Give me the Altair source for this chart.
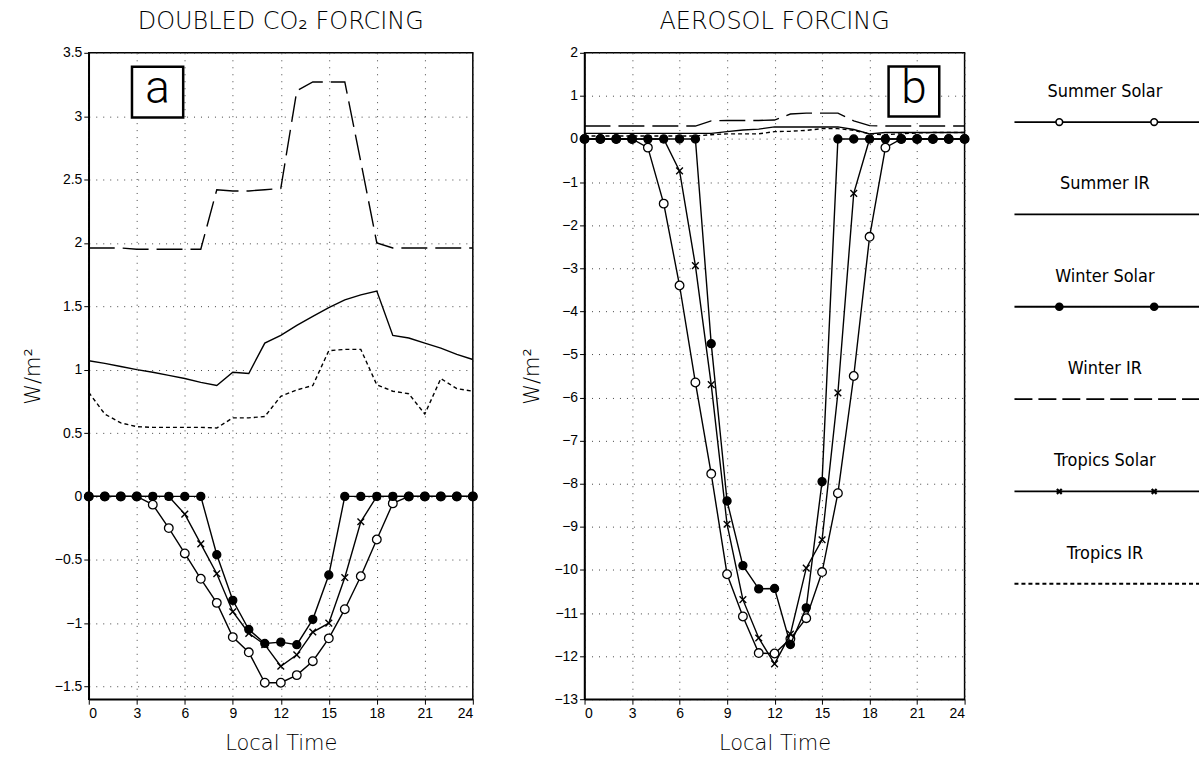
import altair as alt
import pandas as pd

hours = list(range(25))

# ---- Panel a: doubled CO2 forcing ----
a_summer_solar = [0, 0, 0, 0, -0.065, -0.25, -0.45, -0.65, -0.84, -1.11, -1.23, -1.47, -1.47,
                  -1.41, -1.30, -1.12, -0.89, -0.63, -0.34, -0.055, 0, 0, 0, 0, 0]
a_summer_ir = [1.07, 1.05, 1.025, 1.0, 0.98, 0.955, 0.93, 0.90, 0.875, 0.98, 0.97, 1.21, 1.27,
               1.35, 1.42, 1.49, 1.55, 1.59, 1.62, 1.27, 1.25, 1.21, 1.17, 1.12, 1.08]
a_winter_solar = [0, 0, 0, 0, 0, 0, 0, 0, -0.46, -0.82, -1.05, -1.16, -1.15,
                  -1.17, -0.97, -0.62, 0, 0, 0, 0, 0, 0, 0, 0, 0]
a_winter_ir = [1.96, 1.96, 1.96, 1.95, 1.95, 1.95, 1.95, 1.95, 2.42, 2.41, 2.41, 2.42, 2.43,
               3.2, 3.27, 3.27, 3.27, 2.64, 2.0, 1.96, 1.96, 1.96, 1.96, 1.96, 1.96]
a_tropics_solar = [0, 0, 0, 0, 0, 0, -0.14, -0.375, -0.61, -0.91, -1.08, -1.17, -1.34,
                   -1.25, -1.07, -1.0, -0.64, -0.20, 0, 0, 0, 0, 0, 0, 0]
a_tropics_ir = [0.82, 0.65, 0.58, 0.55, 0.545, 0.545, 0.545, 0.545, 0.54, 0.62, 0.62, 0.63, 0.79,
                0.84, 0.875, 1.15, 1.16, 1.16, 0.88, 0.83, 0.81, 0.65, 0.93, 0.85, 0.83]

# ---- Panel b: aerosol forcing ----
b_summer_solar = [0, 0, 0, 0, -0.2, -1.5, -3.4, -5.65, -7.77, -10.1, -11.08, -11.93, -11.94,
                  -11.6, -11.12, -10.05, -8.22, -5.5, -2.27, -0.2, 0, 0, 0, 0, 0]
b_summer_ir = [0.13, 0.13, 0.13, 0.13, 0.13, 0.13, 0.13, 0.13, 0.13, 0.17, 0.21, 0.23, 0.28,
               0.28, 0.28, 0.28, 0.28, 0.22, 0.12, 0.15, 0.15, 0.15, 0.15, 0.15, 0.15]
b_winter_solar = [0, 0, 0, 0, 0, 0, 0, 0, -4.75, -8.4, -9.9, -10.44, -10.43,
                  -11.73, -10.88, -7.95, 0, 0, 0, 0, 0, 0, 0, 0, 0]
b_winter_ir = [0.30, 0.30, 0.30, 0.30, 0.30, 0.30, 0.30, 0.30, 0.42, 0.43, 0.43, 0.43, 0.44,
               0.58, 0.60, 0.60, 0.60, 0.42, 0.31, 0.30, 0.30, 0.30, 0.30, 0.30, 0.30]
b_tropics_solar = [0, 0, 0, 0, 0, 0, -0.74, -2.94, -5.70, -8.94, -10.69, -11.58, -12.18,
                   -11.49, -9.96, -9.3, -5.89, -1.26, 0, 0, 0, 0, 0, 0, 0]
b_tropics_ir = [0.07, 0.07, 0.07, 0.07, 0.07, 0.07, 0.07, 0.07, 0.10, 0.12, 0.12, 0.12, 0.17,
                0.18, 0.20, 0.24, 0.24, 0.20, 0.12, 0.10, 0.12, 0.14, 0.15, 0.15, 0.15]

x_ticks = [0, 3, 6, 9, 12, 15, 18, 21, 24]
a_yticks = [-1.5, -1, -0.5, 0, 0.5, 1, 1.5, 2, 2.5, 3, 3.5]
b_yticks = list(range(-13, 3))

# panel tag boxes: [x0, x1, y0, y1] in data units, letter
a_tag = {"x0": 2.7, "x1": 5.9, "y0": 2.99, "y1": 3.39, "t": "a"}
b_tag = {"x0": 19.2, "x1": 22.4, "y0": 0.52, "y1": 1.68, "t": "b"}

# legend
leg_names = ["Summer Solar", "Summer IR", "Winter Solar", "Winter IR", "Tropics Solar", "Tropics IR"]
leg_style = ["solid", "solid", "solid", "long", "solid", "short"]
leg_marker_pos = [0.243, 0.757]

X_PATH = "M-1,-1L1,1M-1,1L1,-1"
TFONT = "DejaVu Sans"
NFONT = "Liberation Sans"
LONG_DASH = [26, 8]
LEG_LONG_DASH = [18, 6]
SHORT_DASH = [4, 3]


def sdf(vals):
    return pd.DataFrame({"hour": hours, "value": vals})


def panel(title, ss, sir, ws, wir, ts, tir, ydom, yticks, tag, width):
    x = alt.X("hour:Q", scale=alt.Scale(domain=[0, 24], nice=False, zero=False),
              axis=alt.Axis(values=x_ticks, title="Local Time", format="d"))
    y = alt.Y("value:Q", scale=alt.Scale(domain=ydom, nice=False, zero=False),
              axis=alt.Axis(values=yticks, title="W/m²", format="~g"))

    def line(vals, dash=None):
        kw = dict(color="black", strokeWidth=1.4)
        if dash:
            kw["strokeDash"] = dash
        return alt.Chart(sdf(vals)).mark_line(**kw).encode(x=x, y=y)

    def pts(vals, shape, filled, fill, size, sw=1.3):
        return alt.Chart(sdf(vals)).mark_point(
            shape=shape, filled=filled, fill=fill, stroke="black", strokeWidth=sw,
            size=size, opacity=1).encode(x=x, y=y)

    tagdf = pd.DataFrame([tag])
    box = alt.Chart(tagdf).mark_rect(fill="white", stroke="black", strokeWidth=2.5).encode(
        x="x0:Q", x2="x1:Q", y="y0:Q", y2="y1:Q")
    tagx = (tag["x0"] + tag["x1"]) / 2
    tagy = (tag["y0"] + tag["y1"]) / 2
    tagtxt = alt.Chart(pd.DataFrame({"hour": [tagx], "value": [tagy], "t": [tag["t"]]})).mark_text(
        font="Roboto", fontWeight=300, fontSize=46, color="black", baseline="middle", dy=-3).encode(
        x=x, y=y, text="t:N")

    layers = [
        line(wir, LONG_DASH), line(sir), line(tir, SHORT_DASH),
        line(ss), pts(ss, "circle", True, "white", 75),
        line(ts), pts(ts, X_PATH, False, "black", 45, 1.4),
        line(ws), pts(ws, "circle", True, "black", 65),
        box, tagtxt,
    ]
    return alt.layer(*layers).properties(
        width=width, height=648,
        title=alt.TitleParams(title, font=TFONT, fontWeight=200, fontSize=24, offset=12,
                              color="black", anchor="middle"),
        view=alt.ViewBackground(stroke="black", strokeWidth=1.5),
    )


pa = panel("DOUBLED CO₂ FORCING", a_summer_solar, a_summer_ir, a_winter_solar, a_winter_ir,
           a_tropics_solar, a_tropics_ir, [-1.6, 3.5], a_yticks, a_tag, 385)
pb = panel("AEROSOL FORCING", b_summer_solar, b_summer_ir, b_winter_solar, b_winter_ir,
           b_tropics_solar, b_tropics_ir, [-13, 2], b_yticks, b_tag, 381)

# legend panel
leg_df = pd.DataFrame({"name": leg_names, "rank": list(range(6)), "style": leg_style,
                       "x0": [0] * 6, "x1": [1] * 6})
lx = alt.X("x0:Q", scale=alt.Scale(domain=[0, 1], nice=False, zero=False), axis=None)
ly = alt.Y("rank:Q", scale=alt.Scale(domain=[6.25, -0.75], nice=False, zero=False), axis=None)
leg_lines = alt.Chart(leg_df).mark_rule(color="black", strokeWidth=1.8).encode(
    x=lx, x2="x1:Q", y=ly,
    strokeDash=alt.StrokeDash("style:N", scale=alt.Scale(domain=["solid", "long", "short"],
                                                          range=[[1, 0], LEG_LONG_DASH, SHORT_DASH]),
                              legend=None))
leg_text = alt.Chart(leg_df.assign(xc=0.49)).mark_text(
    font="DejaVu Sans Condensed, DejaVu Sans", fontSize=18, color="black", dy=-30).encode(
    x=alt.X("xc:Q", scale=alt.Scale(domain=[0, 1], nice=False, zero=False), axis=None), y=ly,
    text="name:N")

mk_rows = []
for r, shape in [(0, "open"), (2, "filled"), (4, "cross")]:
    for p in leg_marker_pos:
        mk_rows.append({"rank": r, "x0": p, "kind": shape})
mk_df = pd.DataFrame(mk_rows)
mk_open = alt.Chart(mk_df[mk_df.kind == "open"]).mark_point(
    shape="circle", filled=True, fill="white", stroke="black", strokeWidth=1.6, size=45, opacity=1).encode(x=lx, y=ly)
mk_fill = alt.Chart(mk_df[mk_df.kind == "filled"]).mark_point(
    shape="circle", filled=True, fill="black", stroke="black", size=45, opacity=1).encode(x=lx, y=ly)
mk_x = alt.Chart(mk_df[mk_df.kind == "cross"]).mark_point(
    shape=X_PATH, filled=False, stroke="black", strokeWidth=2.2, size=24, opacity=1).encode(x=lx, y=ly)

legend = alt.layer(leg_lines, mk_open, mk_fill, mk_x, leg_text).properties(
    width=185, height=648, view=alt.ViewBackground(stroke="transparent"))

chart = alt.hconcat(pa, pb, legend, spacing=40).configure(
    background="white", padding={"left": 21, "top": 8, "right": 0, "bottom": 0}
).configure_axis(
    labelFont=NFONT, labelFontSize=14, labelColor="black", titleFont=TFONT, titleFontWeight=200,
    titleFontSize=21, titleColor="black", domainColor="black", domainWidth=1.5, tickColor="black",
    tickSize=5, gridColor="#444", gridDash=[1, 6], gridWidth=1, grid=True,
).configure_axisY(titlePadding=11).configure_axisX(titlePadding=12)

chart.save("out.html", embed_options={"renderer": "svg", "actions": False})
